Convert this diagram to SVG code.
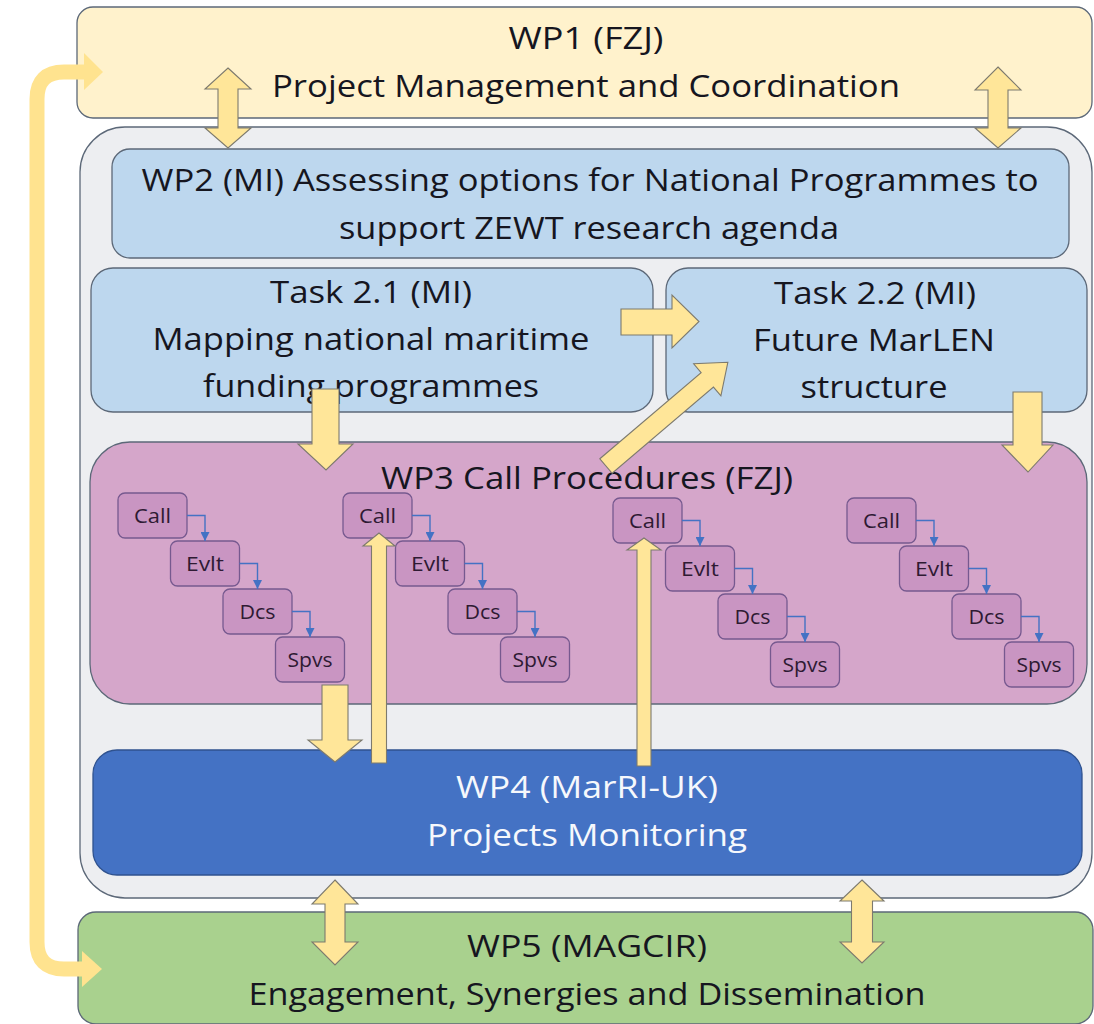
<svg xmlns="http://www.w3.org/2000/svg" width="1094" height="1024" viewBox="0 0 1094 1024">
<defs>
<style>
.n{stroke:#5c6878;stroke-width:1.3}
.t{font-family:'Open Sans','Noto Sans','Liberation Sans',sans-serif;font-size:31px;fill:#16161f;text-anchor:middle}
.w{fill:#f6f8fc}
.sb{fill:#C995C2;stroke:#76598f;stroke-width:1.3}
.st{font-family:'Open Sans','Noto Sans','Liberation Sans',sans-serif;font-size:20px;fill:#2e1a33;text-anchor:middle}
.bl{fill:none;stroke:#4472C4;stroke-width:1.4;marker-end:url(#ab)}
.ya{fill:#FFE699;stroke:#7d7a6e;stroke-width:1.1;stroke-linejoin:miter}
</style>
<marker id="ab" viewBox="0 0 10 10" refX="10" refY="5" markerWidth="9" markerHeight="9" markerUnits="userSpaceOnUse" orient="auto"><path d="M0,0 L10,5 L0,10 z" fill="#4472C4"/></marker>
</defs>
<rect width="1094" height="1024" fill="#ffffff"/>

<g id="container">
<rect class="n" x="80" y="127" width="1012" height="771" rx="45" fill="#EDEEF1"/>
</g>

<g id="wp1">
<rect class="n" x="77" y="7" width="1015" height="111" rx="16" fill="#FFF2CC"/>
<text class="t" x="586" y="49" textLength="155" lengthAdjust="spacingAndGlyphs">WP1 (FZJ)</text>
<text class="t" x="586" y="97" textLength="628" lengthAdjust="spacingAndGlyphs">Project Management and Coordination</text>
</g>

<g id="wp2">
<rect class="n" x="112" y="149" width="957" height="109" rx="18" fill="#BDD7EE" stroke="#41719C"/>
<text class="t" x="590" y="191" textLength="897" lengthAdjust="spacingAndGlyphs">WP2 (MI) Assessing options for National Programmes to</text>
<text class="t" x="589" y="239" textLength="500" lengthAdjust="spacingAndGlyphs">support ZEWT research agenda</text>
</g>

<g id="task21">
<rect class="n" x="91" y="268" width="562" height="144" rx="22" fill="#BDD7EE"/>
<text class="t" x="371" y="303" textLength="202" lengthAdjust="spacingAndGlyphs">Task 2.1 (MI)</text>
<text class="t" x="371" y="350" textLength="437" lengthAdjust="spacingAndGlyphs">Mapping national maritime</text>
<text class="t" x="371" y="397" textLength="336" lengthAdjust="spacingAndGlyphs">funding programmes</text>
</g>

<g id="task22">
<rect class="n" x="666" y="268" width="421" height="144" rx="22" fill="#BDD7EE"/>
<text class="t" x="875" y="304" textLength="202" lengthAdjust="spacingAndGlyphs">Task 2.2 (MI)</text>
<text class="t" x="874" y="351" textLength="242" lengthAdjust="spacingAndGlyphs">Future MarLEN</text>
<text class="t" x="874" y="398" textLength="147" lengthAdjust="spacingAndGlyphs">structure</text>
</g>

<g id="wp3">
<rect class="n" x="90" y="442" width="997" height="262" rx="40" fill="#D5A6CA"/>
<text class="t" x="587" y="489" textLength="412" lengthAdjust="spacingAndGlyphs">WP3 Call Procedures (FZJ)</text>
</g>

<g id="g1-call"><rect class="sb" x="118" y="493" width="69" height="45" rx="7"/><text class="st" x="152.5" y="523" textLength="37" lengthAdjust="spacingAndGlyphs">Call</text></g>
<g id="g1-evlt"><rect class="sb" x="170.5" y="541" width="69" height="45" rx="7"/><text class="st" x="205" y="571" textLength="38" lengthAdjust="spacingAndGlyphs">Evlt</text></g>
<g id="g1-dcs"><rect class="sb" x="223" y="589" width="69" height="45" rx="7"/><text class="st" x="257.5" y="619" textLength="36" lengthAdjust="spacingAndGlyphs">Dcs</text></g>
<g id="g1-spvs"><rect class="sb" x="275.5" y="637" width="69" height="45" rx="7"/><text class="st" x="310" y="667" textLength="45" lengthAdjust="spacingAndGlyphs">Spvs</text></g>

<g id="g2-call"><rect class="sb" x="343" y="493" width="69" height="45" rx="7"/><text class="st" x="377.5" y="523" textLength="37" lengthAdjust="spacingAndGlyphs">Call</text></g>
<g id="g2-evlt"><rect class="sb" x="395.5" y="541" width="69" height="45" rx="7"/><text class="st" x="430" y="571" textLength="38" lengthAdjust="spacingAndGlyphs">Evlt</text></g>
<g id="g2-dcs"><rect class="sb" x="448" y="589" width="69" height="45" rx="7"/><text class="st" x="482.5" y="619" textLength="36" lengthAdjust="spacingAndGlyphs">Dcs</text></g>
<g id="g2-spvs"><rect class="sb" x="500.5" y="637" width="69" height="45" rx="7"/><text class="st" x="535" y="667" textLength="45" lengthAdjust="spacingAndGlyphs">Spvs</text></g>

<g id="g3-call"><rect class="sb" x="613" y="498" width="69" height="45" rx="7"/><text class="st" x="647.5" y="528" textLength="37" lengthAdjust="spacingAndGlyphs">Call</text></g>
<g id="g3-evlt"><rect class="sb" x="665.5" y="546" width="69" height="45" rx="7"/><text class="st" x="700" y="576" textLength="38" lengthAdjust="spacingAndGlyphs">Evlt</text></g>
<g id="g3-dcs"><rect class="sb" x="718" y="594" width="69" height="45" rx="7"/><text class="st" x="752.5" y="624" textLength="36" lengthAdjust="spacingAndGlyphs">Dcs</text></g>
<g id="g3-spvs"><rect class="sb" x="770.5" y="642" width="69" height="45" rx="7"/><text class="st" x="805" y="672" textLength="45" lengthAdjust="spacingAndGlyphs">Spvs</text></g>

<g id="g4-call"><rect class="sb" x="847" y="498" width="69" height="45" rx="7"/><text class="st" x="881.5" y="528" textLength="37" lengthAdjust="spacingAndGlyphs">Call</text></g>
<g id="g4-evlt"><rect class="sb" x="899.5" y="546" width="69" height="45" rx="7"/><text class="st" x="934" y="576" textLength="38" lengthAdjust="spacingAndGlyphs">Evlt</text></g>
<g id="g4-dcs"><rect class="sb" x="952" y="594" width="69" height="45" rx="7"/><text class="st" x="986.5" y="624" textLength="36" lengthAdjust="spacingAndGlyphs">Dcs</text></g>
<g id="g4-spvs"><rect class="sb" x="1004.5" y="642" width="69" height="45" rx="7"/><text class="st" x="1039" y="672" textLength="45" lengthAdjust="spacingAndGlyphs">Spvs</text></g>

<g id="wp4">
<rect x="93" y="750" width="989" height="125" rx="24" fill="#4472C4" stroke="#2F528F" stroke-width="1.3"/>
<text class="t w" x="587" y="798" textLength="262" lengthAdjust="spacingAndGlyphs">WP4 (MarRI-UK)</text>
<text class="t w" x="587" y="846" textLength="320" lengthAdjust="spacingAndGlyphs">Projects Monitoring</text>
</g>

<g id="wp5">
<rect class="n" x="78" y="912" width="1015" height="112" rx="18" fill="#A9D18E"/>
<text class="t" x="587" y="957" textLength="240" lengthAdjust="spacingAndGlyphs">WP5 (MAGCIR)</text>
<text class="t" x="587" y="1005" textLength="677" lengthAdjust="spacingAndGlyphs">Engagement, Synergies and Dissemination</text>
</g>

<g id="connectors">
<path class="bl" d="M187,515.5 H205 V541"/>
<path class="bl" d="M239.5,563.5 H257.5 V589"/>
<path class="bl" d="M292,611.5 H310 V637"/>
<path class="bl" d="M412,515.5 H430 V541"/>
<path class="bl" d="M464.5,563.5 H482.5 V589"/>
<path class="bl" d="M517,611.5 H535 V637"/>
<path class="bl" d="M682,520.5 H700 V546"/>
<path class="bl" d="M734.5,568.5 H752.5 V594"/>
<path class="bl" d="M787,616.5 H805 V642"/>
<path class="bl" d="M916,520.5 H934 V546"/>
<path class="bl" d="M968.5,568.5 H986.5 V594"/>
<path class="bl" d="M1021,616.5 H1039 V642"/>

<path d="M86,72 H64 Q37,72 37,99 V942 Q37,969 64,969 H84" fill="none" stroke="#FFE38F" stroke-width="15"/>
<polygon points="84,53 103,72 84,90" fill="#FFE38F"/>
<polygon points="82,951 102,969 82,987" fill="#FFE38F"/>

<polygon class="ya" points="228,68 251,89 238,89 238,128 251,128 228,148 205,128 218,128 218,89 205,89"/>
<polygon class="ya" points="998,67 1021,90 1008,90 1008,128 1021,128 998,148 975,128 988,128 988,90 975,90"/>
<polygon class="ya" points="335,880 358,904 345,904 345,942 358,942 335,965 312,942 325,942 325,904 312,904"/>
<polygon class="ya" points="862,880 884,901 872.5,901 872.5,942 884,942 862,963 840,942 851.5,942 851.5,901 840,901"/>

<polygon class="ya" points="621,309 672,309 672,295 699,321.5 672,348 672,335 621,335"/>
<polygon class="ya" points="312,389 339,389 339,444 353,444 326,470 298,444 312,444"/>
<polygon class="ya" points="1013,392 1042,392 1042,445 1053,445 1028,472 1002,445 1013,445"/>
<polygon class="ya" points="322,685 348,685 348,740 362,740 335,762 308,740 322,740"/>
<polygon class="ya" points="371.5,763 386.5,763 386.5,546 395,546 379,533 363,546 371.5,546"/>
<polygon class="ya" points="637,766 651,766 651,550 661,550 644,538 627,550 637,550"/>
<polygon class="ya" transform="translate(606,466) rotate(-40.4)" points="0,-9.5 133,-9.5 133,-21 160,0 133,21 133,9.5 0,9.5"/>
</g>
</svg>
